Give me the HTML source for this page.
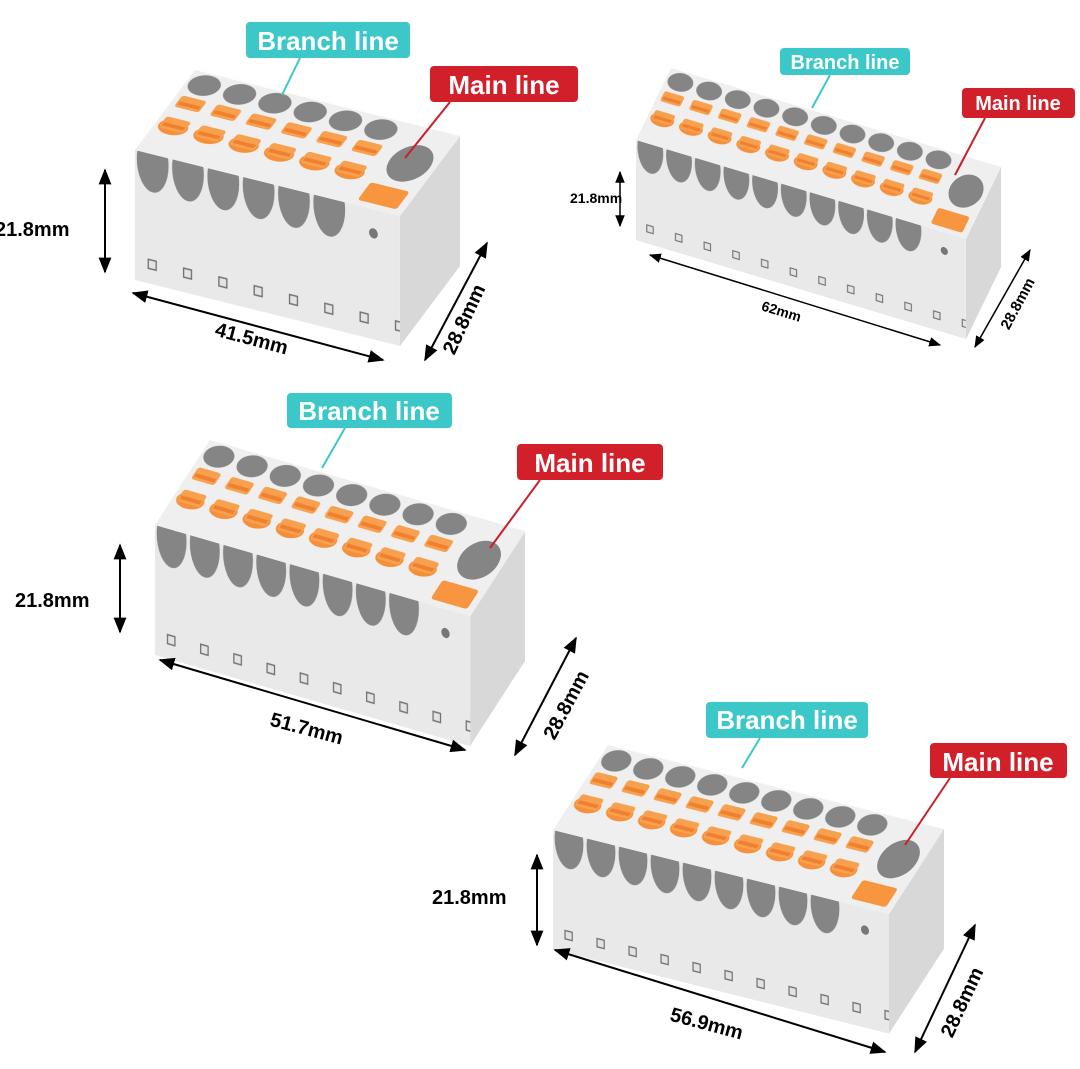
<!DOCTYPE html>
<html><head><meta charset="utf-8"><style>
html,body{margin:0;padding:0;background:#fff}
svg{display:block}
text{font-family:"Liberation Sans",sans-serif;font-weight:bold}
</style></head><body>
<svg width="1080" height="1069" viewBox="0 0 1080 1069" xmlns="http://www.w3.org/2000/svg">
<defs>
<pattern id="tp" patternUnits="userSpaceOnUse" x="0" y="0" width="40" height="100">
  <ellipse cx="20" cy="34" rx="16" ry="9" fill="#f58f3a"/>
  <rect x="6" y="30" width="28" height="14" rx="3" fill="#f7a04d"/>
  <rect x="8" y="33" width="24" height="4" fill="#f08030"/>
  <rect x="6" y="56" width="28" height="14" rx="3" fill="#f7a04d"/>
  <rect x="8" y="59" width="24" height="4" fill="#f08030"/>
  <ellipse cx="20" cy="86" rx="17" ry="12" fill="#858585"/>
</pattern>
<pattern id="fh" patternUnits="userSpaceOnUse" x="0" y="0" width="40" height="130">
  <ellipse cx="20" cy="8" rx="18" ry="30" fill="#858585"/>
</pattern>
<pattern id="fp" patternUnits="userSpaceOnUse" x="0" y="0" width="40" height="130">
  <rect x="15" y="106" width="9" height="9" fill="#e3e3e3" stroke="#707070" stroke-width="1.5"/>
</pattern>
<marker id="ar" viewBox="0 0 10 10" refX="9" refY="5" markerWidth="8" markerHeight="8" orient="auto-start-reverse">
  <path d="M0,1 L10,5 L0,9 z" fill="#000"/>
</marker>
</defs>

<!-- BLOCK 1 -->
<g>
 <g transform="matrix(0.6,-0.8,0,1,400,216)"><rect x="0" y="0" width="100" height="130" fill="#d8d8d8"/></g>
 <g transform="matrix(0.883,0.22,0.6,-0.8,135,150)">
  <rect x="0" y="0" width="300" height="100" fill="#efefef"/>
  <rect x="0" y="0" width="240" height="100" fill="url(#tp)"/>
  <rect x="248" y="6" width="44" height="22" rx="3" fill="#f7963f"/>
  <circle cx="272" cy="58" r="22" fill="#858585"/>
 </g>
 <g transform="matrix(0.883,0.22,0,1,135,150)">
  <rect x="0" y="0" width="300" height="130" fill="#e9e9e9"/>
  <rect x="0" y="0" width="240" height="40" fill="url(#fh)"/>
  <rect x="0" y="0" width="300" height="130" fill="url(#fp)"/>
  <circle cx="270" cy="24" r="5" fill="#777"/>
 </g>
</g>

<!-- BLOCK 2 -->
<g>
 <g transform="matrix(0.35,-0.72,0,0.77,966,239)"><rect x="0" y="0" width="100" height="130" fill="#d8d8d8"/></g>
 <g transform="matrix(0.717,0.215,0.35,-0.72,636,140)">
  <rect x="0" y="0" width="460" height="100" fill="#efefef"/>
  <rect x="0" y="0" width="400" height="100" fill="url(#tp)"/>
  <rect x="408" y="6" width="44" height="22" rx="3" fill="#f7963f"/>
  <circle cx="432" cy="58" r="22" fill="#858585"/>
 </g>
 <g transform="matrix(0.717,0.215,0,0.77,636,140)">
  <rect x="0" y="0" width="460" height="130" fill="#e9e9e9"/>
  <rect x="0" y="0" width="400" height="40" fill="url(#fh)"/>
  <rect x="0" y="0" width="460" height="130" fill="url(#fp)"/>
  <circle cx="430" cy="24" r="5" fill="#777"/>
 </g>
</g>

<!-- BLOCK 3 -->
<g>
 <g transform="matrix(0.55,-0.85,0,1,470,616)"><rect x="0" y="0" width="100" height="130" fill="#d8d8d8"/></g>
 <g transform="matrix(0.83,0.24,0.55,-0.85,155,525)">
  <rect x="0" y="0" width="380" height="100" fill="#efefef"/>
  <rect x="0" y="0" width="320" height="100" fill="url(#tp)"/>
  <rect x="328" y="6" width="44" height="22" rx="3" fill="#f7963f"/>
  <circle cx="352" cy="58" r="22" fill="#858585"/>
 </g>
 <g transform="matrix(0.83,0.24,0,1,155,525)">
  <rect x="0" y="0" width="380" height="130" fill="#e9e9e9"/>
  <rect x="0" y="0" width="320" height="40" fill="url(#fh)"/>
  <rect x="0" y="0" width="380" height="130" fill="url(#fp)"/>
  <circle cx="350" cy="24" r="5" fill="#777"/>
 </g>
</g>

<!-- BLOCK 4 -->
<g>
 <g transform="matrix(0.55,-0.85,0,0.92,889,914)"><rect x="0" y="0" width="100" height="130" fill="#d8d8d8"/></g>
 <g transform="matrix(0.8,0.2,0.55,-0.85,553,830)">
  <rect x="0" y="0" width="420" height="100" fill="#efefef"/>
  <rect x="0" y="0" width="360" height="100" fill="url(#tp)"/>
  <rect x="368" y="6" width="44" height="22" rx="3" fill="#f7963f"/>
  <circle cx="392" cy="58" r="22" fill="#858585"/>
 </g>
 <g transform="matrix(0.8,0.2,0,0.92,553,830)">
  <rect x="0" y="0" width="420" height="130" fill="#e9e9e9"/>
  <rect x="0" y="0" width="360" height="40" fill="url(#fh)"/>
  <rect x="0" y="0" width="420" height="130" fill="url(#fp)"/>
  <circle cx="390" cy="24" r="5" fill="#777"/>
 </g>
</g>

<!-- Labels -->
<g>
 <line x1="300" y1="58" x2="282" y2="95" stroke="#3cc7c9" stroke-width="2"/>
 <rect x="246" y="22" width="164" height="36" rx="4" fill="#3cc7c9"/>
 <text x="328" y="50" font-size="26" fill="#fff" text-anchor="middle">Branch line</text>
 <line x1="450" y1="102" x2="405" y2="158" stroke="#c8202a" stroke-width="2"/>
 <rect x="430" y="66" width="148" height="36" rx="4" fill="#d2202a"/>
 <text x="504" y="94" font-size="26" fill="#fff" text-anchor="middle">Main line</text>

 <line x1="830" y1="75" x2="812" y2="108" stroke="#3cc7c9" stroke-width="2"/>
 <rect x="780" y="48" width="130" height="27" rx="4" fill="#3cc7c9"/>
 <text x="845" y="69" font-size="20" fill="#fff" text-anchor="middle">Branch line</text>
 <line x1="985" y1="118" x2="955" y2="175" stroke="#c8202a" stroke-width="2"/>
 <rect x="962" y="88" width="113" height="30" rx="4" fill="#d2202a"/>
 <text x="1018" y="110" font-size="20" fill="#fff" text-anchor="middle">Main line</text>

 <line x1="345" y1="428" x2="322" y2="468" stroke="#3cc7c9" stroke-width="2"/>
 <rect x="287" y="393" width="165" height="35" rx="4" fill="#3cc7c9"/>
 <text x="369" y="420" font-size="26" fill="#fff" text-anchor="middle">Branch line</text>
 <line x1="540" y1="480" x2="490" y2="548" stroke="#c8202a" stroke-width="2"/>
 <rect x="517" y="444" width="146" height="36" rx="4" fill="#d2202a"/>
 <text x="590" y="472" font-size="26" fill="#fff" text-anchor="middle">Main line</text>

 <line x1="760" y1="738" x2="742" y2="768" stroke="#3cc7c9" stroke-width="2"/>
 <rect x="706" y="702" width="162" height="36" rx="4" fill="#3cc7c9"/>
 <text x="787" y="729" font-size="26" fill="#fff" text-anchor="middle">Branch line</text>
 <line x1="950" y1="778" x2="905" y2="845" stroke="#c8202a" stroke-width="2"/>
 <rect x="930" y="743" width="137" height="35" rx="4" fill="#d2202a"/>
 <text x="998" y="771" font-size="26" fill="#fff" text-anchor="middle">Main line</text>
</g>

<!-- Dimensions -->
<g stroke="#000" stroke-width="2" fill="none">
 <line x1="105" y1="170" x2="105" y2="272" marker-start="url(#ar)" marker-end="url(#ar)"/>
 <line x1="133" y1="293" x2="383" y2="360" marker-start="url(#ar)" marker-end="url(#ar)"/>
 <line x1="425" y1="360" x2="487" y2="243" marker-start="url(#ar)" marker-end="url(#ar)"/>

 <line x1="620" y1="172" x2="620" y2="226" stroke-width="1.5" marker-start="url(#ar)" marker-end="url(#ar)"/>
 <line x1="650" y1="255" x2="940" y2="345" stroke-width="1.5" marker-start="url(#ar)" marker-end="url(#ar)"/>
 <line x1="975" y1="347" x2="1030" y2="250" stroke-width="1.5" marker-start="url(#ar)" marker-end="url(#ar)"/>

 <line x1="120" y1="545" x2="120" y2="632" marker-start="url(#ar)" marker-end="url(#ar)"/>
 <line x1="160" y1="660" x2="465" y2="750" marker-start="url(#ar)" marker-end="url(#ar)"/>
 <line x1="515" y1="755" x2="576" y2="638" marker-start="url(#ar)" marker-end="url(#ar)"/>

 <line x1="537" y1="855" x2="537" y2="945" marker-start="url(#ar)" marker-end="url(#ar)"/>
 <line x1="555" y1="950" x2="885" y2="1052" marker-start="url(#ar)" marker-end="url(#ar)"/>
 <line x1="915" y1="1052" x2="975" y2="925" marker-start="url(#ar)" marker-end="url(#ar)"/>
</g>
<g fill="#000">
 <text x="-5" y="236" font-size="20">21.8mm</text>
 <text x="250" y="345" font-size="20" transform="rotate(15 250 345)" text-anchor="middle">41.5mm</text>
 <text x="470" y="322" font-size="20" transform="rotate(-65 470 322)" text-anchor="middle">28.8mm</text>

 <text x="570" y="203" font-size="14">21.8mm</text>
 <text x="780" y="316" font-size="14" transform="rotate(17 780 316)" text-anchor="middle">62mm</text>
 <text x="1022" y="306" font-size="15" transform="rotate(-62 1022 306)" text-anchor="middle">28.8mm</text>

 <text x="15" y="607" font-size="20">21.8mm</text>
 <text x="305" y="735" font-size="20" transform="rotate(15 305 735)" text-anchor="middle">51.7mm</text>
 <text x="572" y="708" font-size="20" transform="rotate(-62 572 708)" text-anchor="middle">28.8mm</text>

 <text x="432" y="904" font-size="20">21.8mm</text>
 <text x="705" y="1030" font-size="20" transform="rotate(15 705 1030)" text-anchor="middle">56.9mm</text>
 <text x="968" y="1005" font-size="20" transform="rotate(-65 968 1005)" text-anchor="middle">28.8mm</text>
</g>
</svg>
</body></html>
